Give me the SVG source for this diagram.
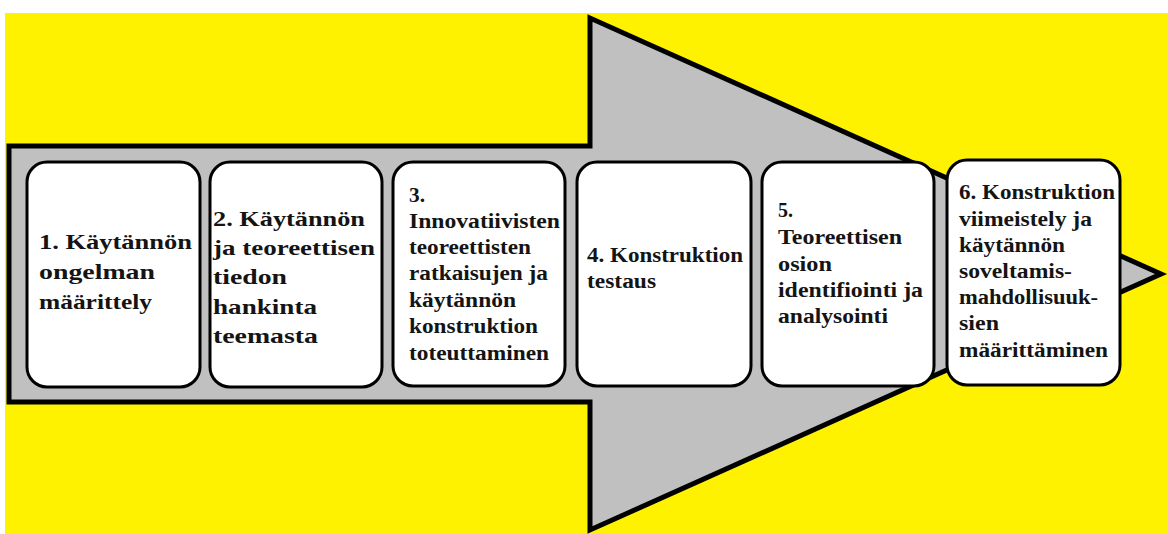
<svg xmlns="http://www.w3.org/2000/svg" width="1168" height="534" viewBox="0 0 1168 534">
  <style>
    .bg { fill: #FFF200; }
    .arrow { fill: #C0C0C0; stroke: #000; stroke-width: 5; stroke-linejoin: miter; }
    .box { fill: #FFFFFF; stroke: #000; stroke-width: 3; }
    .t { font-family: "Liberation Serif", "Times New Roman", serif; font-weight: bold; fill: #141414; }
    .lg { font-size: 22px; }
    .sm { font-size: 20px; }
  </style>

  <!-- backdrop -->
  <rect x="0" y="0" width="1168" height="534" fill="#FFFFFF"/>
  <rect class="bg" x="5" y="13" width="1163" height="521"/>

  <!-- big process arrow -->
  <g id="connectors">
    <path class="arrow" d="M 9 146 H 590 V 18 L 1161 274 L 590 530 V 402 H 9 Z"/>
  </g>

  <g id="step1">
    <rect class="box" x="27" y="162" width="173" height="225" rx="20" ry="20"/>
    <text class="t lg" x="39" y="249" textLength="153" lengthAdjust="spacingAndGlyphs">1. Käytännön</text>
    <text class="t lg" x="39" y="279" textLength="116" lengthAdjust="spacingAndGlyphs">ongelman</text>
    <text class="t lg" x="39" y="309" textLength="113" lengthAdjust="spacingAndGlyphs">määrittely</text>
  </g>

  <g id="step2">
    <rect class="box" x="210" y="162" width="172" height="225" rx="20" ry="20"/>
    <text class="t lg" x="213" y="226" textLength="152" lengthAdjust="spacingAndGlyphs">2. Käytännön</text>
    <text class="t lg" x="213" y="255" textLength="162" lengthAdjust="spacingAndGlyphs">ja teoreettisen</text>
    <text class="t lg" x="213" y="284" textLength="74" lengthAdjust="spacingAndGlyphs">tiedon</text>
    <text class="t lg" x="213" y="314" textLength="104" lengthAdjust="spacingAndGlyphs">hankinta</text>
    <text class="t lg" x="213" y="343" textLength="105" lengthAdjust="spacingAndGlyphs">teemasta</text>
  </g>

  <g id="step3">
    <rect class="box" x="393" y="162" width="172" height="224" rx="20" ry="20"/>
    <text class="t sm" x="409" y="202" textLength="16" lengthAdjust="spacingAndGlyphs">3.</text>
    <text class="t sm" x="409" y="228" textLength="151" lengthAdjust="spacingAndGlyphs">Innovatiivisten</text>
    <text class="t sm" x="409" y="254" textLength="122" lengthAdjust="spacingAndGlyphs">teoreettisten</text>
    <text class="t sm" x="409" y="280" textLength="139" lengthAdjust="spacingAndGlyphs">ratkaisujen ja</text>
    <text class="t sm" x="409" y="307" textLength="107" lengthAdjust="spacingAndGlyphs">käytännön</text>
    <text class="t sm" x="409" y="333" textLength="129" lengthAdjust="spacingAndGlyphs">konstruktion</text>
    <text class="t sm" x="409" y="360" textLength="140" lengthAdjust="spacingAndGlyphs">toteuttaminen</text>
  </g>

  <g id="step4">
    <rect class="box" x="577" y="162" width="174" height="224" rx="20" ry="20"/>
    <text class="t sm" x="587" y="262" textLength="156" lengthAdjust="spacingAndGlyphs">4. Konstruktion</text>
    <text class="t sm" x="587" y="288" textLength="69" lengthAdjust="spacingAndGlyphs">testaus</text>
  </g>

  <g id="step5">
    <rect class="box" x="762" y="162" width="172" height="224" rx="20" ry="20"/>
    <text class="t sm" x="778" y="217" textLength="15" lengthAdjust="spacingAndGlyphs">5.</text>
    <text class="t sm" x="778" y="244" textLength="124" lengthAdjust="spacingAndGlyphs">Teoreettisen</text>
    <text class="t sm" x="778" y="271" textLength="54" lengthAdjust="spacingAndGlyphs">osion</text>
    <text class="t sm" x="778" y="297" textLength="145" lengthAdjust="spacingAndGlyphs">identifiointi ja</text>
    <text class="t sm" x="778" y="323" textLength="110" lengthAdjust="spacingAndGlyphs">analysointi</text>
  </g>

  <g id="step6">
    <rect class="box" x="947" y="160" width="173" height="225" rx="20" ry="20"/>
    <text class="t sm" x="959" y="199" textLength="156" lengthAdjust="spacingAndGlyphs">6. Konstruktion</text>
    <text class="t sm" x="959" y="226" textLength="133" lengthAdjust="spacingAndGlyphs">viimeistely ja</text>
    <text class="t sm" x="959" y="252" textLength="106" lengthAdjust="spacingAndGlyphs">käytännön</text>
    <text class="t sm" x="959" y="278" textLength="113" lengthAdjust="spacingAndGlyphs">soveltamis-</text>
    <text class="t sm" x="959" y="304" textLength="139" lengthAdjust="spacingAndGlyphs">mahdollisuuk-</text>
    <text class="t sm" x="959" y="330" textLength="40" lengthAdjust="spacingAndGlyphs">sien</text>
    <text class="t sm" x="959" y="357" textLength="149" lengthAdjust="spacingAndGlyphs">määrittäminen</text>
  </g>
</svg>
